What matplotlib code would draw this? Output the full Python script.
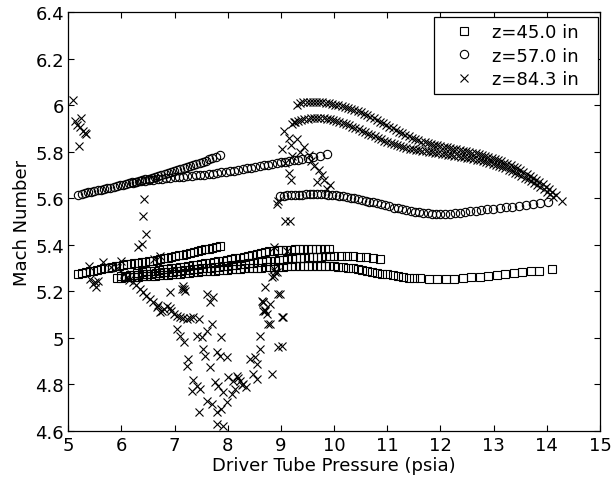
import numpy as np
import matplotlib
matplotlib.use('Agg')
import matplotlib.pyplot as plt

plt.rcParams['font.family'] = ['DejaVu Sans']

# ---- z = 45.0 in (squares), several overlapping runs ----
sq1_x = [5.19, 5.26, 5.33, 5.40, 5.47, 5.54, 5.61, 5.68, 5.75, 5.82, 5.89, 5.96, 6.03,
         6.10, 6.17, 6.24, 6.31, 6.38, 6.45, 6.52, 6.59, 6.66, 6.73, 6.80, 6.87, 6.94,
         7.01, 7.08, 7.15, 7.22, 7.29, 7.36, 7.43, 7.50, 7.57, 7.64, 7.71, 7.78, 7.85]
sq1_y = [5.274, 5.278, 5.281, 5.285, 5.288, 5.292, 5.295, 5.298, 5.301, 5.304, 5.307, 5.310,
         5.312, 5.315, 5.317, 5.320, 5.322, 5.324, 5.326, 5.329, 5.332, 5.335, 5.338, 5.341,
         5.344, 5.347, 5.351, 5.354, 5.358, 5.361, 5.365, 5.368, 5.372, 5.376, 5.380, 5.383,
         5.387, 5.390, 5.394]

sq2_x = [5.91, 5.99, 6.07, 6.15, 6.23, 6.31, 6.39, 6.47, 6.55, 6.63, 6.71, 6.79, 6.87, 6.95,
         7.03, 7.11, 7.19, 7.27, 7.35, 7.43, 7.51, 7.59, 7.67, 7.75, 7.83, 7.91, 7.99, 8.07,
         8.15, 8.23, 8.31, 8.39, 8.47, 8.55, 8.63, 8.71, 8.79, 8.87, 8.95, 9.03, 9.11, 9.19,
         9.27, 9.35, 9.43, 9.51, 9.59, 9.67, 9.75, 9.83, 9.91, 9.99, 10.08, 10.17, 10.26,
         10.35, 10.44, 10.53, 10.62, 10.71, 10.80, 10.90, 11.00, 11.10, 11.20, 11.30, 11.40,
         11.50, 11.62, 11.78, 11.94, 12.10, 12.26, 12.42, 12.58, 12.74, 12.90, 13.06, 13.22,
         13.38, 13.54, 13.70, 13.86, 14.09]
sq2_y = [5.258, 5.259, 5.260, 5.261, 5.262, 5.263, 5.264, 5.265, 5.266, 5.267, 5.268, 5.269,
         5.271, 5.272, 5.274, 5.276, 5.277, 5.279, 5.281, 5.283, 5.285, 5.286, 5.288, 5.289,
         5.291, 5.292, 5.293, 5.294, 5.295, 5.296, 5.298, 5.299, 5.300, 5.301, 5.302, 5.303,
         5.304, 5.305, 5.305, 5.306, 5.307, 5.307, 5.308, 5.308, 5.309, 5.309, 5.309, 5.309,
         5.309, 5.308, 5.308, 5.307, 5.305, 5.303, 5.300, 5.298, 5.295, 5.292, 5.288, 5.284,
         5.280, 5.276, 5.272, 5.268, 5.264, 5.261, 5.258, 5.256, 5.255, 5.254, 5.253, 5.253,
         5.254, 5.257, 5.260, 5.263, 5.267, 5.271, 5.274, 5.278, 5.282, 5.285, 5.289, 5.296]

sq3_x = [6.00, 6.08, 6.16, 6.24, 6.32, 6.40, 6.48, 6.56, 6.64, 6.72, 6.80, 6.88, 6.96, 7.04,
         7.12, 7.20, 7.28, 7.36, 7.44, 7.52, 7.60, 7.68, 7.76, 7.84, 7.92, 8.00, 8.08, 8.16,
         8.24, 8.32, 8.40, 8.48, 8.56, 8.64, 8.72, 8.80, 8.88, 8.96, 9.04, 9.12, 9.20, 9.28,
         9.36, 9.44, 9.52, 9.60, 9.68, 9.76, 9.84, 9.92, 10.00, 10.12, 10.24, 10.36, 10.48,
         10.60, 10.73, 10.86]
sq3_y = [5.265, 5.267, 5.268, 5.270, 5.271, 5.273, 5.274, 5.276, 5.277, 5.279, 5.281, 5.282,
         5.284, 5.286, 5.288, 5.290, 5.292, 5.294, 5.296, 5.298, 5.300, 5.302, 5.304, 5.306,
         5.308, 5.310, 5.312, 5.314, 5.316, 5.318, 5.320, 5.322, 5.324, 5.326, 5.328, 5.330,
         5.332, 5.334, 5.336, 5.338, 5.340, 5.341, 5.343, 5.345, 5.346, 5.347, 5.348, 5.349,
         5.350, 5.351, 5.352, 5.352, 5.351, 5.350, 5.348, 5.346, 5.343, 5.339]

sq4_x = [6.30, 6.38, 6.46, 6.54, 6.62, 6.70, 6.78, 6.86, 6.94, 7.02, 7.10, 7.18, 7.26, 7.34,
         7.42, 7.50, 7.58, 7.66, 7.74, 7.82, 7.90, 7.98, 8.06, 8.14, 8.22, 8.30, 8.38, 8.46,
         8.54, 8.62, 8.70, 8.78, 8.86, 8.94, 9.02, 9.10, 9.18, 9.26, 9.34, 9.42, 9.50, 9.58,
         9.66, 9.74, 9.82, 9.90]
sq4_y = [5.280, 5.282, 5.285, 5.287, 5.289, 5.292, 5.294, 5.296, 5.299, 5.301, 5.303, 5.306,
         5.308, 5.311, 5.314, 5.317, 5.320, 5.323, 5.326, 5.329, 5.332, 5.335, 5.338, 5.341,
         5.345, 5.349, 5.352, 5.356, 5.360, 5.363, 5.367, 5.371, 5.374, 5.376, 5.377, 5.378,
         5.379, 5.380, 5.380, 5.381, 5.381, 5.381, 5.381, 5.381, 5.380, 5.380]

# ---- z = 57.0 in (circles) ----
ci1_x = [5.19, 5.25, 5.31, 5.37, 5.43, 5.49, 5.55, 5.61, 5.67, 5.73, 5.79, 5.85, 5.91, 5.97,
         6.03, 6.09, 6.15, 6.21, 6.27, 6.33, 6.39, 6.45, 6.51, 6.57, 6.63, 6.69, 6.75, 6.81,
         6.87, 6.93, 6.99, 7.05, 7.11, 7.17, 7.23, 7.29, 7.35, 7.41, 7.47, 7.53, 7.59, 7.65,
         7.71, 7.77, 7.85]
ci1_y = [5.615, 5.618, 5.622, 5.625, 5.628, 5.631, 5.634, 5.637, 5.640, 5.643, 5.646, 5.649,
         5.652, 5.655, 5.658, 5.661, 5.664, 5.667, 5.670, 5.674, 5.677, 5.681, 5.684, 5.688,
         5.692, 5.696, 5.700, 5.704, 5.708, 5.712, 5.716, 5.720, 5.725, 5.729, 5.734, 5.738,
         5.743, 5.747, 5.752, 5.757, 5.762, 5.767, 5.772, 5.777, 5.785]

ci2_x = [6.20, 6.28, 6.36, 6.44, 6.52, 6.60, 6.68, 6.76, 6.84, 6.92, 7.00, 7.08, 7.16, 7.24,
         7.32, 7.40, 7.48, 7.56, 7.64, 7.72, 7.80, 7.88, 7.96, 8.04, 8.12, 8.20, 8.28, 8.36,
         8.44, 8.52, 8.60, 8.68, 8.76, 8.84, 8.92, 9.00, 9.08, 9.16, 9.24, 9.32, 9.40, 9.50,
         9.61, 9.73, 9.86]
ci2_y = [5.668, 5.670, 5.673, 5.675, 5.677, 5.680, 5.682, 5.684, 5.686, 5.688, 5.690, 5.692,
         5.693, 5.695, 5.697, 5.698, 5.700, 5.702, 5.704, 5.706, 5.708, 5.711, 5.713, 5.716,
         5.719, 5.722, 5.725, 5.729, 5.732, 5.735, 5.738, 5.741, 5.744, 5.747, 5.750, 5.754,
         5.757, 5.760, 5.763, 5.766, 5.770, 5.773, 5.777, 5.783, 5.790]

ci3_x = [8.98, 9.05, 9.12, 9.19, 9.26, 9.33, 9.40, 9.47, 9.54, 9.61, 9.68, 9.75, 9.82, 9.89,
         9.96, 10.03, 10.10, 10.17, 10.24, 10.31, 10.38, 10.45, 10.52, 10.59, 10.66, 10.73,
         10.80, 10.88, 10.96, 11.04, 11.12, 11.20, 11.28, 11.36, 11.44, 11.52, 11.60, 11.68,
         11.76, 11.84, 11.92, 12.00, 12.09, 12.18, 12.27, 12.36, 12.46, 12.56, 12.66, 12.77,
         12.88, 12.99, 13.11, 13.23, 13.35, 13.48, 13.61, 13.74, 13.88, 14.02]
ci3_y = [5.610, 5.611, 5.612, 5.613, 5.614, 5.615, 5.616, 5.617, 5.617, 5.618, 5.618, 5.618,
         5.617, 5.616, 5.615, 5.613, 5.610, 5.608, 5.605, 5.602, 5.599, 5.596, 5.592, 5.589,
         5.585, 5.582, 5.578, 5.574, 5.569, 5.565, 5.560, 5.556, 5.552, 5.548, 5.545, 5.542,
         5.539, 5.537, 5.535, 5.533, 5.532, 5.532, 5.532, 5.533, 5.535, 5.537, 5.540, 5.543,
         5.546, 5.549, 5.552, 5.555, 5.558, 5.561, 5.564, 5.568, 5.572, 5.576, 5.581, 5.586]

# ---- z = 84.3 in (crosses) ----
cr_hi_x = [9.30, 9.36, 9.42, 9.48, 9.54, 9.60, 9.66, 9.72, 9.78, 9.84, 9.90, 9.96, 10.02,
           10.08, 10.14, 10.20, 10.26, 10.32, 10.38, 10.44, 10.50, 10.56, 10.62, 10.68, 10.74,
           10.80, 10.86, 10.92, 10.98, 11.04, 11.10, 11.16, 11.22, 11.28, 11.34, 11.40, 11.46,
           11.52, 11.58, 11.64, 11.70, 11.76, 11.82, 11.88, 11.94, 12.00, 12.06, 12.12, 12.18,
           12.24, 12.30, 12.36, 12.42, 12.48, 12.54, 12.60, 12.66, 12.72, 12.78, 12.84, 12.90,
           12.96, 13.02, 13.08, 13.14, 13.20, 13.26, 13.32, 13.38, 13.44, 13.50, 13.56, 13.62,
           13.68, 13.74, 13.80, 13.86, 13.92, 13.98, 14.04, 14.10, 14.18, 14.28]
cr_hi_y = [6.000, 6.010, 6.014, 6.015, 6.015, 6.015, 6.014, 6.013, 6.012, 6.010, 6.008, 6.006,
           6.003, 6.000, 5.996, 5.993, 5.989, 5.985, 5.981, 5.976, 5.970, 5.964, 5.958, 5.951,
           5.944, 5.937, 5.930, 5.922, 5.915, 5.908, 5.901, 5.894, 5.887, 5.880, 5.873, 5.866,
           5.860, 5.854, 5.849, 5.844, 5.840, 5.836, 5.833, 5.830, 5.827, 5.824, 5.822, 5.819,
           5.816, 5.814, 5.811, 5.808, 5.805, 5.802, 5.799, 5.796, 5.793, 5.790, 5.786, 5.782,
           5.778, 5.774, 5.769, 5.764, 5.759, 5.753, 5.747, 5.741, 5.735, 5.728, 5.721, 5.713,
           5.705, 5.697, 5.688, 5.679, 5.670, 5.660, 5.650, 5.640, 5.629, 5.612, 5.588]

cr_lo_x = [9.20, 9.26, 9.32, 9.38, 9.44, 9.50, 9.56, 9.62, 9.68, 9.74, 9.80, 9.86, 9.92, 9.98,
           10.04, 10.10, 10.16, 10.22, 10.28, 10.34, 10.40, 10.46, 10.52, 10.58, 10.64, 10.70,
           10.76, 10.82, 10.88, 10.94, 11.00, 11.06, 11.12, 11.18, 11.24, 11.30, 11.36, 11.42,
           11.48, 11.54, 11.60, 11.66, 11.72, 11.78, 11.84, 11.90, 11.96, 12.02, 12.08, 12.14,
           12.20, 12.26, 12.32, 12.38, 12.44, 12.50, 12.56, 12.62, 12.68, 12.74, 12.80, 12.86,
           12.92, 12.98, 13.04, 13.10, 13.16, 13.22, 13.28, 13.34, 13.40, 13.46, 13.52, 13.58,
           13.64, 13.70, 13.76, 13.82, 13.88, 13.94, 14.00, 14.06, 14.12]
cr_lo_y = [5.920, 5.928, 5.934, 5.938, 5.941, 5.943, 5.944, 5.945, 5.945, 5.945, 5.944, 5.942,
           5.940, 5.937, 5.933, 5.929, 5.924, 5.919, 5.914, 5.908, 5.902, 5.896, 5.890, 5.884,
           5.878, 5.872, 5.866, 5.860, 5.854, 5.848, 5.842, 5.837, 5.832, 5.828, 5.824, 5.820,
           5.817, 5.814, 5.811, 5.808, 5.806, 5.804, 5.802, 5.800, 5.798, 5.796, 5.794, 5.792,
           5.790, 5.788, 5.786, 5.783, 5.781, 5.779, 5.777, 5.774, 5.772, 5.769, 5.766, 5.763,
           5.760, 5.756, 5.752, 5.748, 5.743, 5.738, 5.733, 5.728, 5.722, 5.716, 5.710, 5.703,
           5.696, 5.689, 5.681, 5.673, 5.665, 5.656, 5.647, 5.638, 5.628, 5.617, 5.605]

cr_sc_x = [5.09, 5.13, 5.17, 5.23, 5.21, 5.28, 5.31, 5.22, 5.33,
           5.38, 5.41, 5.47, 5.53, 5.56, 5.50, 5.66, 5.80, 5.92, 6.00, 6.05, 6.10,
           6.15, 6.22, 6.28, 6.35, 6.41, 6.47, 6.53, 6.60, 6.66, 6.69, 6.72, 6.76,
           6.80, 6.85, 6.91, 6.94, 6.98, 7.04, 7.10, 7.16, 7.23, 7.29, 7.35, 7.45,
           6.32, 6.38, 6.40, 6.42, 6.47, 6.72, 6.62, 7.13, 7.19, 7.16, 7.18, 6.91,
           7.04, 7.10, 7.17, 7.26, 7.24, 7.35, 7.42, 7.32, 7.45, 7.48, 7.42, 7.51,
           7.54, 7.60, 7.60, 7.67, 7.73, 7.70, 7.57, 7.67, 7.79, 7.85, 7.88, 7.98,
           7.60, 7.70, 7.79, 7.76, 7.82, 7.91, 7.88, 7.79, 7.90, 7.98, 8.01, 8.10,
           8.17, 8.23, 8.29, 8.35, 8.13, 8.07, 8.20, 8.26, 8.42, 8.51, 8.54, 8.48,
           8.54, 8.61, 8.61, 8.70, 8.73, 8.76, 8.67, 8.79, 8.70, 8.83, 8.98, 9.02,
           8.95, 9.02, 8.86, 8.92, 8.86, 8.83, 8.64, 8.67, 8.67, 8.70, 9.04, 8.79,
           8.95, 8.86, 9.11, 8.89, 8.95, 9.08, 9.17,
           8.93, 9.02, 9.05, 9.08, 9.15, 9.18, 9.21, 9.18, 9.15, 9.24, 9.30, 9.43,
           9.52, 9.62, 9.71, 9.81, 9.93, 9.68, 9.36, 9.57, 9.77, 9.87]
cr_sc_y = [6.024, 5.934, 5.915, 5.946, 5.826, 5.891, 5.881, 5.905, 5.877,
           5.310, 5.253, 5.231, 5.217, 5.245, 5.240, 5.325, 5.305, 5.300, 5.331, 5.275, 5.262,
           5.250, 5.239, 5.225, 5.210, 5.196, 5.181, 5.167, 5.152, 5.131, 5.140, 5.109, 5.116,
           5.125, 5.138, 5.130, 5.115, 5.102, 5.095, 5.088, 5.084, 5.081, 5.085, 5.088, 5.081,
           5.389, 5.403, 5.523, 5.597, 5.446, 5.353, 5.340, 5.210, 5.203, 5.224, 5.210, 5.196,
           5.038, 5.009, 4.980, 4.909, 4.880, 4.820, 4.794, 4.772, 4.679, 4.780, 5.009, 5.002,
           4.952, 5.030, 5.188, 5.152, 5.174, 5.059, 4.923, 4.872, 4.937, 4.923, 5.002, 4.916,
           4.729, 4.715, 4.679, 4.808, 4.794, 4.765, 4.693, 4.629, 4.622, 4.722, 4.830, 4.815,
           4.837, 4.815, 4.801, 4.787, 4.780, 4.758, 4.828, 4.795, 4.909, 4.916, 4.887, 4.844,
           4.823, 4.952, 5.009, 5.116, 5.102, 5.059, 5.152, 5.145, 5.217, 4.844, 5.188, 5.088,
           4.959, 4.966, 5.296, 5.282, 5.267, 5.260, 5.159, 5.152, 5.116, 5.120, 5.088, 5.059,
           5.188, 5.389, 5.375, 5.281, 5.590, 5.504, 5.504,
           5.575, 5.810, 5.890, 5.750, 5.710, 5.680, 5.780, 5.830, 5.860, 5.930, 5.856, 5.820,
           5.785, 5.740, 5.720, 5.680, 5.655, 5.670, 5.800, 5.760, 5.700, 5.640]

x45 = sq1_x + sq2_x + sq3_x + sq4_x
y45 = sq1_y + sq2_y + sq3_y + sq4_y
x57 = ci1_x + ci2_x + ci3_x
y57 = ci1_y + ci2_y + ci3_y
x84 = cr_sc_x + cr_hi_x + cr_lo_x
y84 = cr_sc_y + cr_hi_y + cr_lo_y

fs = 13

fig = plt.figure(figsize=(6.11, 4.85), dpi=100)
ax = fig.add_axes([0.1118, 0.1099, 0.8702, 0.8627])

mk = dict(linestyle='none', mfc='none', mec='black', mew=0.8)
ax.plot(x45, y45, marker='s', ms=5.7, label='z=45.0 in', **mk)
ax.plot(x57, y57, marker='o', ms=6.0, label='z=57.0 in', **mk)
ax.plot(x84, y84, marker='x', ms=5.2, label='z=84.3 in', **mk)

ax.set_xlim(5, 15)
ax.set_ylim(4.6, 6.4)
ax.set_xticks(np.arange(5, 16, 1))
ax.set_yticks([4.6, 4.8, 5.0, 5.2, 5.4, 5.6, 5.8, 6.0, 6.2, 6.4])
ax.set_yticklabels(['4.6', '4.8', '5', '5.2', '5.4', '5.6', '5.8', '6', '6.2', '6.4'])
ax.tick_params(direction='in', top=True, right=True, length=4, width=0.8,
               labelsize=fs, pad=3.5)
ax.tick_params(axis='y', pad=3)
for s in ax.spines.values():
    s.set_linewidth(0.9)

ax.set_xlabel('Driver Tube Pressure (psia)', fontsize=fs, labelpad=2)
ax.set_ylabel('Mach Number', fontsize=fs, labelpad=3)

leg = ax.legend(loc='upper right', bbox_to_anchor=(0.688, 0.5, 0.308, 0.489),
                mode='expand', fontsize=fs, fancybox=False, framealpha=1,
                edgecolor='black', handlelength=2.7, handletextpad=0.15,
                borderaxespad=0, labelspacing=0.32, borderpad=0.33)
leg.get_frame().set_linewidth(0.9)

fig.savefig('out.png', dpi=100)
